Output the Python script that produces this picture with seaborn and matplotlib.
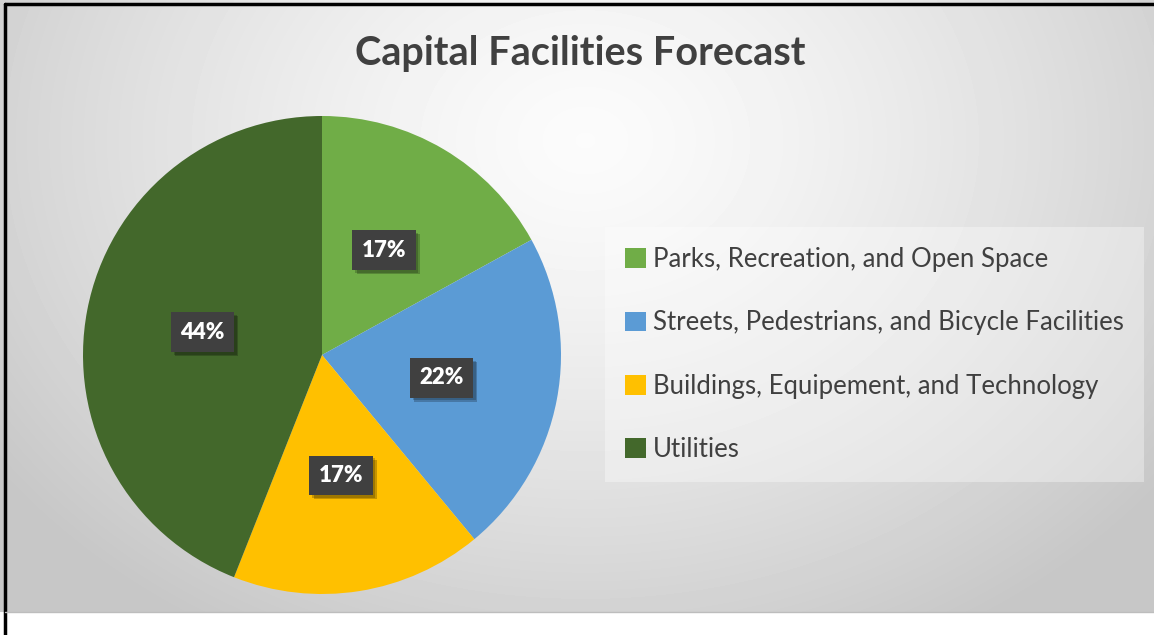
import numpy as np
import matplotlib
matplotlib.use("Agg")
import matplotlib.pyplot as plt
import matplotlib.patheffects as pe
import seaborn as sns

# chart data
categories = ["Parks, Recreation, and Open Space",
              "Streets, Pedestrians, and Bicycle Facilities",
              "Buildings, Equipement, and Technology",
              "Utilities"]
shares = [17, 22, 17, 44]
colors = ["#70AD47", "#5B9BD5", "#FFC000", "#43682B"]
title = "Capital Facilities Forecast"

sns.set_theme(style="white")
plt.rcParams['font.family'] = ['Lato', 'DejaVu Sans']

W, H = 1154, 635
fig = plt.figure(figsize=(W / 100, H / 100), dpi=100)
fig.patch.set_facecolor("white")

# background with radial gradient (chart area ends at y=612 px)
bg = fig.add_axes([0, 23 / H, 1, 1 - 23 / H])
yy, xx = np.mgrid[0:612, 0:W]
d = np.sqrt(((xx - 585) / 760.0) ** 2 + ((yy - 140) / 600.0) ** 2)
shade = np.clip(0.985 - 0.22 * d ** 1.35, 0.78, 1.0)
bg.imshow(shade, cmap="gray", vmin=0, vmax=1, aspect="auto",
          extent=[0, W, 612, 0], interpolation="bilinear")
bg.set_xlim(0, W)
bg.set_ylim(612, 0)
bg.axis("off")
# black frame on left and top, thin gray line at the bottom
fig.add_artist(plt.Line2D([5 / W, 5 / W], [0, 1 - 4 / H], color="black", lw=2.5,
                          transform=fig.transFigure))
fig.add_artist(plt.Line2D([5 / W, 1], [1 - 4 / H, 1 - 4 / H], color="black", lw=2.5,
                          transform=fig.transFigure))
fig.add_artist(plt.Line2D([5 / W, 1], [23 / H, 23 / H], color="#bdbdbd", lw=1,
                          transform=fig.transFigure))

# pie
cx, cy, r = 322, 355, 239
ax = fig.add_axes([(cx - r) / W, (H - cy - r) / H, 2 * r / W, 2 * r / H])
wedges, texts, autotexts = ax.pie(
    shares, colors=colors, startangle=90, counterclock=False,
    autopct="%1.0f%%", pctdistance=0.51,
    wedgeprops=dict(linewidth=0),
    textprops=dict(color="white", fontsize=16, fontweight="heavy"))
for t in autotexts:
    t.set_bbox(dict(boxstyle="square,pad=0.42", facecolor="#404040", edgecolor="none"))
    t.get_bbox_patch().set_path_effects(
        [pe.withSimplePatchShadow(offset=(3, -3), shadow_rgbFace="black", alpha=0.22),
         pe.withSimplePatchShadow(offset=(2, -2), shadow_rgbFace="black", alpha=0.2)])
ax.set_xlim(-1, 1)
ax.set_ylim(-1, 1)
ax.set_aspect("equal")
ax.axis("off")

# title
fig.text(580 / W, 1 - 53 / H, title, ha="center", va="center",
         fontsize=28.5, fontweight="bold", color="#404040")

# legend
leg = fig.legend(wedges, categories, loc="upper left",
                 bbox_to_anchor=(605 / W, 1 - 227 / H),
                 fontsize=18.5, frameon=True, fancybox=False,
                 handlelength=0.8, handleheight=0.8, handletextpad=0.3,
                 labelspacing=1.49, borderpad=0.78, borderaxespad=0)
for t in leg.get_texts():
    t.set_color("#404040")
frame = leg.get_frame()
frame.set_facecolor("white")
frame.set_alpha(0.35)
frame.set_edgecolor("none")

fig.savefig("out.png", dpi=100)
